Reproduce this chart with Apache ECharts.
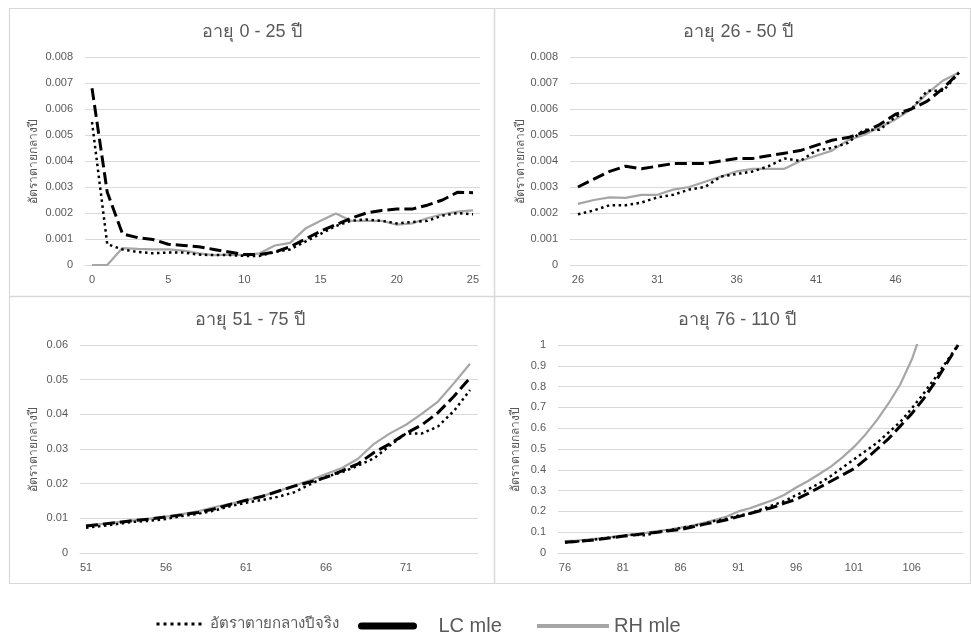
<!DOCTYPE html>
<html>
<head>
<meta charset="utf-8">
<script src="https://cdn.jsdelivr.net/npm/echarts@6/dist/echarts.min.js"></script>
<style>
  html, body { margin: 0; padding: 0; background: #fff; }
  #chart { width: 971px; height: 639px; }
</style>
</head>
<body>
<div id="chart"></div>
<script>
// อัตราตายกลางปี แยก 4 ช่วงอายุ: ค่าจริง / LC mle / RH mle
const ages1 = [0, 1, 2, 3, 4, 5, 6, 7, 8, 9, 10, 11, 12, 13, 14, 15, 16, 17, 18, 19, 20, 21, 22, 23, 24, 25];
const real1 = [0.0055, 0.0008, 0.0006, 0.0005, 0.00045, 0.00048, 0.00048, 0.0004, 0.00038, 0.00038, 0.00035, 0.00035, 0.0005, 0.0006, 0.0009, 0.0012, 0.0015, 0.0017, 0.00175, 0.0017, 0.0016, 0.00165, 0.0017, 0.0019, 0.002, 0.00195];
const lc1   = [0.0068, 0.0028, 0.0012, 0.00105, 0.00098, 0.0008, 0.00075, 0.0007, 0.0006, 0.0005, 0.0004, 0.0004, 0.0005, 0.0007, 0.001, 0.0013, 0.00155, 0.0018, 0.002, 0.0021, 0.00215, 0.00215, 0.0023, 0.0025, 0.0028, 0.00278];
const rh1   = [0, 0, 0.00065, 0.00062, 0.0006, 0.0006, 0.00055, 0.00045, 0.00038, 0.0004, 0.00038, 0.00045, 0.00075, 0.00085, 0.0014, 0.0017, 0.00198, 0.0017, 0.0017, 0.0017, 0.00155, 0.0016, 0.0018, 0.00195, 0.00205, 0.0021];

const ages2 = [26, 27, 28, 29, 30, 31, 32, 33, 34, 35, 36, 37, 38, 39, 40, 41, 42, 43, 44, 45, 46, 47, 48, 49, 50];
const real2 = [0.00195, 0.0021, 0.0023, 0.0023, 0.0024, 0.0026, 0.0027, 0.0029, 0.003, 0.0034, 0.0035, 0.0036, 0.0038, 0.0041, 0.004, 0.0044, 0.0045, 0.0047, 0.0052, 0.0052, 0.0057, 0.006, 0.0067, 0.0067, 0.0074];
const lc2   = [0.003, 0.0033, 0.0036, 0.0038, 0.0037, 0.0038, 0.0039, 0.0039, 0.0039, 0.004, 0.0041, 0.0041, 0.0042, 0.0043, 0.0044, 0.0046, 0.0048, 0.0049, 0.0051, 0.0054, 0.0058, 0.006, 0.0063, 0.0068, 0.0074];
const rh2   = [0.00235, 0.0025, 0.0026, 0.00258, 0.0027, 0.0027, 0.0029, 0.003, 0.0032, 0.0034, 0.0036, 0.0037, 0.0037, 0.0037, 0.004, 0.0042, 0.0044, 0.0048, 0.005, 0.0053, 0.0056, 0.006, 0.0066, 0.0071, 0.0074];

const ages3 = [51, 52, 53, 54, 55, 56, 57, 58, 59, 60, 61, 62, 63, 64, 65, 66, 67, 68, 69, 70, 71, 72, 73, 74, 75];
const real3 = [0.0073, 0.0078, 0.0084, 0.009, 0.0093, 0.0098, 0.0107, 0.0113, 0.0122, 0.0135, 0.0145, 0.0153, 0.0162, 0.0175, 0.0198, 0.022, 0.0233, 0.0252, 0.0273, 0.031, 0.0345, 0.0345, 0.0365, 0.041, 0.047];
const lc3   = [0.0078, 0.0083, 0.0088, 0.0094, 0.0098, 0.0104, 0.011, 0.0117, 0.0127, 0.014, 0.0152, 0.0163, 0.0178, 0.0193, 0.0205, 0.0218, 0.0237, 0.0257, 0.029, 0.0315, 0.0345, 0.037, 0.0405, 0.0452, 0.0505];
const rh3   = [0.008, 0.0084, 0.0089, 0.0094, 0.0099, 0.0105, 0.0112, 0.012, 0.0132, 0.0142, 0.0152, 0.0164, 0.0178, 0.0194, 0.021, 0.0228, 0.0245, 0.0272, 0.0315, 0.0345, 0.037, 0.0402, 0.0437, 0.049, 0.0546];

const ages4 = [76, 77, 78, 79, 80, 81, 82, 83, 84, 85, 86, 87, 88, 89, 90, 91, 92, 93, 94, 95, 96, 97, 98, 99, 100, 101, 102, 103, 104, 105, 106, 107, 108, 109, 110];
const real4 = [0.05, 0.055, 0.06, 0.068, 0.075, 0.082, 0.088, 0.085, 0.1, 0.11, 0.12, 0.13, 0.14, 0.155, 0.165, 0.18, 0.19, 0.21, 0.23, 0.25, 0.278, 0.305, 0.335, 0.37, 0.41, 0.45, 0.49, 0.53, 0.58, 0.63, 0.695, 0.765, 0.84, 0.92, 1.0];
const lc4   = [0.052, 0.055, 0.06, 0.066, 0.073, 0.08, 0.087, 0.094, 0.1, 0.107, 0.113, 0.125, 0.138, 0.148, 0.16, 0.175, 0.19, 0.205, 0.22, 0.24, 0.258, 0.285, 0.315, 0.345, 0.375, 0.405, 0.45, 0.5, 0.55, 0.61, 0.67, 0.74, 0.82, 0.91, 1.0];
const rh4   = [0.057, 0.06, 0.065, 0.07, 0.077, 0.085, 0.09, 0.097, 0.105, 0.113, 0.122, 0.132, 0.145, 0.16, 0.175, 0.2, 0.215, 0.235, 0.255, 0.28, 0.315, 0.345, 0.38, 0.415, 0.46, 0.51, 0.57, 0.64, 0.72, 0.81, 0.93, 1.09, 1.25, 1.42, 1.62];

const xTicks1 = [0, 5, 10, 15, 20, 25];
const xTicks2 = [26, 31, 36, 41, 46];
const xTicks3 = [51, 56, 61, 66, 71];
const xTicks4 = [76, 81, 86, 91, 96, 101, 106];

const titles = ['อายุ 0 - 25 ปี', 'อายุ 26 - 50 ปี', 'อายุ 51 - 75 ปี', 'อายุ 76 - 110 ปี'];
const yName = 'อัตราตายกลางปี';
const names = ['อัตราตายกลางปีจริง', 'LC mle', 'RH mle'];

const FONT = '"Liberation Sans", "Noto Sans", sans-serif';
const GREY_TXT = '#595959';
const GRID_C = '#d9d9d9';

const chart = echarts.init(document.getElementById('chart'));

const pairs = (xs, ys) => xs.map((x, i) => [x, ys[i]]);

const grids = [
  { left: 85, top: 57, width: 395, height: 208 },
  { left: 570, top: 57, width: 397, height: 208 },
  { left: 80, top: 345, width: 398, height: 208 },
  { left: 558, top: 345, width: 405, height: 208 }
];

const xRanges = [[-0.46, 25.46], [25.5, 50.5], [50.625, 75.5], [75.4, 110.43]];
const xTickSets = [xTicks1, xTicks2, xTicks3, xTicks4];
const yMax = [0.008, 0.008, 0.06, 1];
const yStep = [0.001, 0.001, 0.01, 0.1];
const yGap = [45, 36, 40, 36];

const xAxis = xRanges.map((r, i) => ({
  type: 'value', gridIndex: i, min: r[0], max: r[1],
  axisLine: { show: true, lineStyle: { color: GRID_C } },
  axisTick: { show: false },
  splitLine: { show: false },
  axisLabel: { customValues: xTickSets[i], color: GREY_TXT, fontSize: 11, fontFamily: FONT, margin: 9 }
}));

const yAxis = yMax.map((m, i) => ({
  type: 'value', gridIndex: i, min: 0, max: m, interval: yStep[i],
  name: yName, nameLocation: 'middle', nameGap: yGap[i],
  nameTextStyle: { color: GREY_TXT, fontSize: 12, fontFamily: FONT },
  axisLine: { show: false }, axisTick: { show: false },
  splitLine: { lineStyle: { color: GRID_C, width: 1 } },
  axisLabel: {
    color: GREY_TXT, fontSize: 11, fontFamily: FONT, margin: 12,
    formatter: v => String(+v.toFixed(4))
  }
}));

const sets = [
  [ages1, real1, lc1, rh1],
  [ages2, real2, lc2, rh2],
  [ages3, real3, lc3, rh3],
  [ages4, real4, lc4, rh4]
];

const styleReal = { color: '#000', width: 2.5, type: [2.5, 3.5] };
const styleLC = { color: '#000', width: 3, type: [12, 5] };
const styleRH = { color: '#a6a6a6', width: 2.2 };

const series = [];
sets.forEach((s, i) => {
  const [ages, real, lc, rh] = s;
  series.push({ name: names[2], type: 'line', xAxisIndex: i, yAxisIndex: i, data: pairs(ages, rh), symbol: 'none', lineStyle: styleRH, itemStyle: { color: '#a6a6a6' }, clip: true });
  series.push({ name: names[1], type: 'line', xAxisIndex: i, yAxisIndex: i, data: pairs(ages, lc), symbol: 'none', lineStyle: styleLC, itemStyle: { color: '#000' }, clip: true });
  series.push({ name: names[0], type: 'line', xAxisIndex: i, yAxisIndex: i, data: pairs(ages, real), symbol: 'none', lineStyle: styleReal, itemStyle: { color: '#000' }, clip: true });
});

const titlePos = [[252, 32], [738, 32], [250, 320], [737, 320]];

const graphic = [
  // panel frames
  { type: 'rect', shape: { x: 9.5, y: 8.5, width: 961, height: 575 }, style: { fill: 'none', stroke: GRID_C, lineWidth: 1.2 }, silent: true },
  { type: 'line', shape: { x1: 494.5, y1: 8.5, x2: 494.5, y2: 583.5 }, style: { stroke: GRID_C, lineWidth: 1.5 }, silent: true },
  { type: 'line', shape: { x1: 9.5, y1: 296.5, x2: 970.5, y2: 296.5 }, style: { stroke: GRID_C, lineWidth: 1.5 }, silent: true }
].concat(titles.map((t, i) => ({
  type: 'text', x: titlePos[i][0], y: titlePos[i][1], silent: true,
  style: { text: t, fill: GREY_TXT, font: '18px ' + FONT, textAlign: 'center', textVerticalAlign: 'middle' }
})));

const legendBase = { top: 616, orient: 'horizontal', selectedMode: false, padding: 0, itemStyle: { opacity: 0 } };

chart.setOption({
  backgroundColor: '#fff',
  animation: false,
  grid: grids,
  xAxis: xAxis,
  yAxis: yAxis,
  series: series,
  graphic: graphic,
  legend: [
    Object.assign({}, legendBase, {
      left: 155, itemWidth: 48, itemHeight: 20, data: [names[0]],
      lineStyle: { width: 3, type: [3, 4] },
      textStyle: { color: GREY_TXT, fontSize: 15, fontFamily: FONT, padding: [0, 0, 0, 0] }
    }),
    Object.assign({}, legendBase, {
      left: 358, itemWidth: 52, itemHeight: 20, data: [names[1]],
      lineStyle: { width: 7, type: 'solid', cap: 'round' },
      textStyle: { color: GREY_TXT, fontSize: 20, fontFamily: FONT, padding: [0, 0, 0, 20] }
    }),
    Object.assign({}, legendBase, {
      left: 535, itemWidth: 72, itemHeight: 20, data: [names[2]],
      lineStyle: { width: 4 },
      textStyle: { color: GREY_TXT, fontSize: 20, fontFamily: FONT, padding: [0, 0, 0, 0] }
    })
  ]
});
</script>
</body>
</html>
